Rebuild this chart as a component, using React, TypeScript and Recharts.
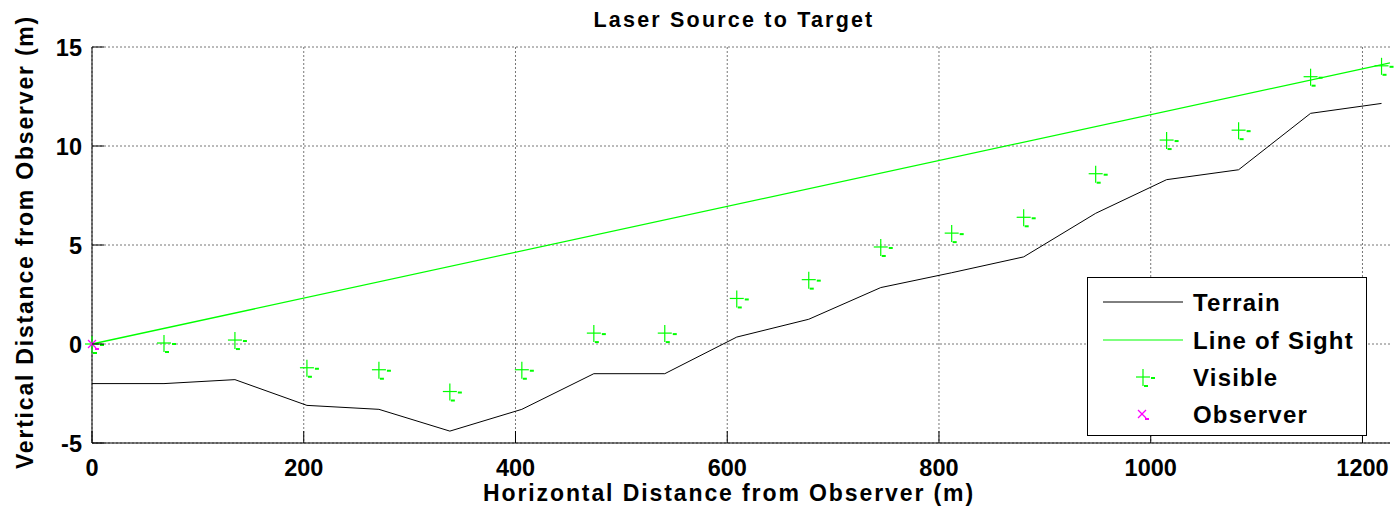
import React from 'react';
import { ComposedChart, Line, Scatter, XAxis, YAxis, CartesianGrid } from 'recharts';

// sample positions along the path (m)
const sampleX = [0, 68, 135, 203, 271, 338, 406, 474, 541, 609, 677, 745, 812, 880, 948, 1015, 1083, 1151, 1218];
const terrainHeight = [-2.0, -2.0, -1.8, -3.1, -3.3, -4.4, -3.3, -1.5, -1.5, 0.35, 1.25, 2.85, 3.6, 4.4, 6.6, 8.3, 8.8, 11.65, 12.15];
const visibleHeight = [0, 0.05, 0.2, -1.2, -1.3, -2.4, -1.3, 0.55, 0.55, 2.3, 3.25, 4.9, 5.6, 6.4, 8.6, 10.3, 10.8, 13.5, 14.05];
const sightX = [0, 1226];
const sightHeight = [0, 14.2];
const observerX = [0];
const observerHeight = [0];

const xTicks = [0, 200, 400, 600, 800, 1000, 1200];
const yTicks = [-5, 0, 5, 10, 15];
const legendLabels = ['Terrain', 'Line of Sight', 'Visible', 'Observer'];

const terrainData = sampleX.map((x, i) => ({ x, y: terrainHeight[i] }));
const visibleData = sampleX.map((x, i) => ({ x, y: visibleHeight[i] }));
const sightData = sightX.map((x, i) => ({ x, y: sightHeight[i] }));
const observerData = observerX.map((x, i) => ({ x, y: observerHeight[i] }));

const GREEN = '#00ff00';
const MAGENTA = '#ff00ff';
const FONT = '"Liberation Sans", Arial, sans-serif';
const TICK_LEN = 12;

const VisibleMark = ({ cx, cy }: { cx: number; cy: number }) => (
  <g>
    <line x1={cx - 7} y1={cy} x2={cx + 7} y2={cy} stroke={GREEN} strokeWidth={1.2} />
    <line x1={cx} y1={cy - 8} x2={cx} y2={cy + 9} stroke={GREEN} strokeWidth={1.2} />
    <rect x={cx + 8} y={cy} width={4} height={2} fill={GREEN} />
    <rect x={cx + 1} y={cy + 8} width={4} height={2} fill={GREEN} />
  </g>
);

const ObserverMark = ({ cx, cy }: { cx: number; cy: number }) => (
  <g>
    <line x1={cx - 4} y1={cy - 4} x2={cx + 4} y2={cy + 4} stroke={MAGENTA} strokeWidth={1.2} />
    <line x1={cx - 4} y1={cy + 4} x2={cx + 4} y2={cy - 4} stroke={MAGENTA} strokeWidth={1.2} />
    <rect x={cx + 3} y={cy + 4} width={4} height={2} fill={MAGENTA} />
  </g>
);

const BottomTick = (props: any) => {
  const { x, y, payload } = props;
  return (
    <g>
      <line x1={x} y1={y} x2={x} y2={y - TICK_LEN} stroke="#000" />
      <text x={x} y={y + 33} textAnchor="middle" fontSize={23.5} fontWeight="bold" fontFamily={FONT} fill="#000">
        {payload.value}
      </text>
    </g>
  );
};

const LeftTick = (props: any) => {
  const { x, y, payload } = props;
  return (
    <g>
      <line x1={x} y1={y} x2={x + TICK_LEN} y2={y} stroke="#000" />
      <text x={x - 10} y={y + 8.5} textAnchor="end" fontSize={23.5} fontWeight="bold" fontFamily={FONT} fill="#000">
        {payload.value}
      </text>
    </g>
  );
};

const TopTick = (props: any) => {
  const { x, y } = props;
  return <line x1={x} y1={y} x2={x} y2={y + TICK_LEN} stroke="#000" />;
};

const RightTick = (props: any) => {
  const { x, y } = props;
  return <line x1={x} y1={y} x2={x - TICK_LEN} y2={y} stroke="#000" />;
};

const LegendBox = () => {
  const rowY = [25, 63, 100, 137];
  return (
    <svg width={280} height={159} style={{ display: 'block' }}>
      <rect x={0.5} y={0.5} width={279} height={158} fill="#fff" stroke="#000" />
      <line x1={16} y1={rowY[0]} x2={96} y2={rowY[0]} stroke="#000" />
      <line x1={16} y1={rowY[1]} x2={96} y2={rowY[1]} stroke={GREEN} strokeWidth={1.2} />
      <VisibleMark cx={56} cy={rowY[2]} />
      <ObserverMark cx={55} cy={rowY[3]} />
      {legendLabels.map((label, i) => (
        <text
          key={label}
          x={106}
          y={rowY[i] + 9}
          fontSize={24}
          fontWeight="bold"
          fontFamily={FONT}
          letterSpacing={1.2}
          fill="#000"
        >
          {label}
        </text>
      ))}
    </svg>
  );
};

export default function App() {
  return (
    <div style={{ position: 'absolute', left: 0, top: 0, width: 1394, height: 516, background: '#fff' }}>
      <ComposedChart width={1394} height={516} margin={{ top: 47, right: 4, left: 0, bottom: 0 }}>
        <CartesianGrid stroke="#777" strokeDasharray="2 2" horizontalValues={yTicks} verticalValues={xTicks} />
        <XAxis
          xAxisId={0}
          dataKey="x"
          type="number"
          domain={[0, 1226]}
          ticks={xTicks}
          height={73}
          tickSize={0}
          tickMargin={0}
          tick={<BottomTick />}
          axisLine={{ stroke: '#000' }}
        />
        <XAxis
          xAxisId="top"
          orientation="top"
          dataKey="x"
          type="number"
          domain={[0, 1226]}
          ticks={xTicks}
          height={0}
          tickSize={0}
          tickMargin={0}
          tick={<TopTick />}
          axisLine={false}
        />
        <YAxis
          yAxisId={0}
          type="number"
          domain={[-5, 15]}
          ticks={yTicks}
          width={92}
          tickSize={0}
          tickMargin={0}
          tick={<LeftTick />}
          axisLine={{ stroke: '#000' }}
        />
        <YAxis
          yAxisId="right"
          orientation="right"
          type="number"
          domain={[-5, 15]}
          ticks={yTicks}
          width={0}
          tickSize={0}
          tickMargin={0}
          tick={<RightTick />}
          axisLine={false}
        />
        <Line data={terrainData} dataKey="y" name="Terrain" stroke="#000" strokeWidth={1} dot={false} isAnimationActive={false} />
        <Line data={sightData} dataKey="y" name="Line of Sight" stroke={GREEN} strokeWidth={1.3} dot={false} isAnimationActive={false} />
        <Scatter data={visibleData} dataKey="y" name="Visible" shape={(p: any) => <VisibleMark cx={p.cx} cy={p.cy} />} isAnimationActive={false} />
        <Scatter data={observerData} dataKey="y" name="Observer" shape={(p: any) => <ObserverMark cx={p.cx} cy={p.cy} />} isAnimationActive={false} />
      </ComposedChart>
      <div style={{ position: 'absolute', left: 1087, top: 277, width: 280, height: 159 }}>
        <LegendBox />
      </div>
      <svg width={1394} height={516} style={{ position: 'absolute', left: 0, top: 0, pointerEvents: 'none' }}>
        <text x={734} y={27} textAnchor="middle" fontSize={21.5} fontWeight="bold" fontFamily={FONT} letterSpacing={2.2}>
          Laser Source to Target
        </text>
        <text x={729} y={501} textAnchor="middle" fontSize={23} fontWeight="bold" fontFamily={FONT} letterSpacing={1.9}>
          Horizontal Distance from Observer (m)
        </text>
        <text
          transform="translate(33,242) rotate(-90)"
          textAnchor="middle"
          fontSize={23}
          fontWeight="bold"
          fontFamily={FONT}
          letterSpacing={1.8}
        >
          Vertical Distance from Observer (m)
        </text>
      </svg>
    </div>
  );
}
